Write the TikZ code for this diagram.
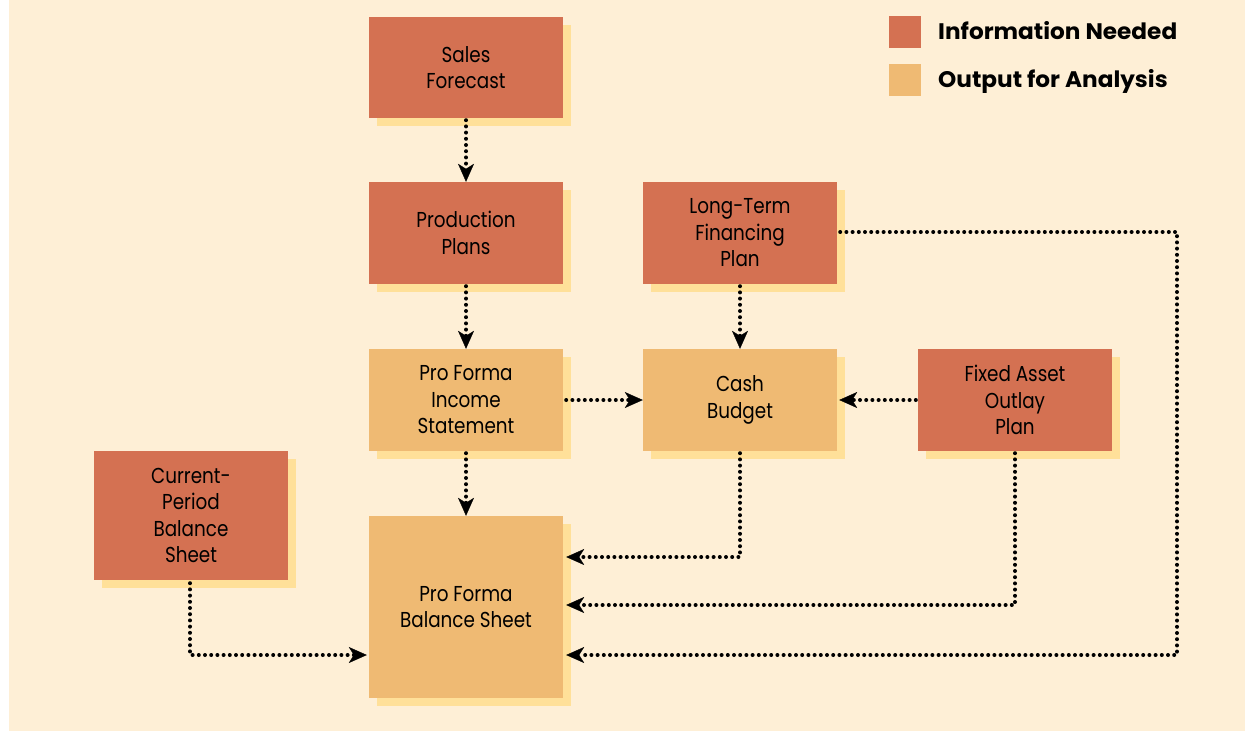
\documentclass[tikz,border=0pt]{standalone}
\usepackage{fontspec}
\setmainfont[FakeStretch=0.85]{Poppins}
\newfontfamily\legfont[FakeStretch=1.03]{Poppins}
\usetikzlibrary{arrows.meta,shadows,calc}
\definecolor{bgc}{HTML}{FEEFD6}
\definecolor{infoc}{HTML}{D47152}
\definecolor{outc}{HTML}{EFBA73}
\definecolor{shadc}{HTML}{FFE099}
\tikzset{
  box/.style={minimum width=194pt, inner sep=0pt, align=center,
    font=\fontsize{21.6}{26.5}\selectfont, text=black,
    general shadow={shadow xshift=8pt, shadow yshift=-8pt, fill=shadc}},
  info/.style={box, fill=infoc},
  outp/.style={box, fill=outc},
  flow/.style={line width=4pt, line cap=round, dash pattern=on 0pt off 6.2pt,
    -{Stealth[length=18pt,width=16pt,inset=5pt,line width=0.3pt]}},
  legsq/.style={minimum size=32pt, inner sep=0pt},
  legtxt/.style={anchor=base west, inner sep=0pt, font=\legfont\bfseries\fontsize{22.5}{26}\selectfont}
}
\begin{document}
\begin{tikzpicture}[x=1pt,y=-1pt]
\useasboundingbox (0,0) rectangle (1245,731);
\fill[bgc] (9,0) rectangle (1245,731);
% legend
\node[legsq, fill=infoc] (l1) at (905,32) {};
\node[legsq, fill=outc] (l2) at (905,80) {};
\node[legtxt] (l1t) at (938,39.5) {Information Needed};
\node[legtxt] (l2t) at (938,87.5) {Output for Analysis};
% boxes
\node[info, minimum height=101pt] (sales) at (466,67.5) {Sales\\Forecast};
\node[info, minimum height=102pt] (prod) at (466,233) {Production\\Plans};
\node[info, minimum height=102pt] (ltf) at (740,233) {Long-Term\\Financing\\Plan};
\node[outp, minimum height=102pt] (inc) at (466,400) {Pro Forma\\Income\\Statement};
\node[outp, minimum height=102pt] (cash) at (740,400) {Cash\\Budget};
\node[info, minimum height=102pt] (fixed) at (1015,400) {Fixed Asset\\Outlay\\Plan};
\node[info, minimum height=129pt] (cur) at (191,515.5) {Current-\\Period\\Balance\\Sheet};
\node[outp, minimum height=182pt] (pfbs) at (466,607) {Pro Forma\\Balance Sheet};
\coordinate (corner) at (1177,655);
% connectors
\draw[flow] ([yshift=-2pt]sales.south) -- (prod.north);
\draw[flow] ([yshift=-2pt]prod.south) -- (inc.north);
\draw[flow] ([yshift=-2pt]ltf.south) -- (cash.north);
\draw[flow] ([xshift=3pt]inc.east) -- (cash.west);
\draw[flow] ([xshift=-2pt]fixed.west) -- ([xshift=2pt]cash.east);
\draw[flow] ([yshift=-2pt]inc.south) -- (pfbs.north);
\draw[flow] ([yshift=-2pt]cash.south) |- ([xshift=3pt,yshift=50pt]pfbs.east);
\draw[flow] ([yshift=-2pt]fixed.south) |- ([xshift=3pt,yshift=2pt]pfbs.east);
\draw[flow] ([xshift=3pt,yshift=1pt]ltf.east) -| (corner) -- ([xshift=3pt,yshift=-48pt]pfbs.east);
\draw[flow] ([xshift=-1pt,yshift=-3pt]cur.south) |- ([xshift=-2pt,yshift=-48pt]pfbs.west);
\end{tikzpicture}
\end{document}
